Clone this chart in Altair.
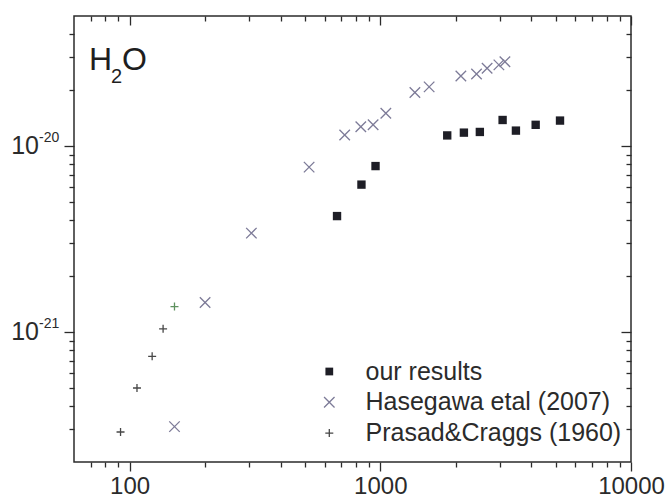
import altair as alt
import pandas as pd

# Cross sections for H2O versus energy
ours_x = [672, 841, 957, 1849, 2155, 2495, 3075, 3475, 4166, 5210]
ours_y = [4.2e-21, 6.2e-21, 7.8e-21, 1.14e-20, 1.18e-20, 1.19e-20, 1.38e-20, 1.21e-20, 1.30e-20, 1.37e-20]

hase_x = [151, 200, 306, 520, 721, 836, 936, 1052, 1374, 1566, 2096, 2420, 2667, 2972, 3141]
hase_y = [3.1e-22, 1.44e-21, 3.4e-21, 7.7e-21, 1.145e-20, 1.27e-20, 1.30e-20, 1.50e-20,
          1.94e-20, 2.08e-20, 2.38e-20, 2.44e-20, 2.62e-20, 2.73e-20, 2.84e-20]

pc_x = [92, 107, 123, 136, 151]
pc_y = [2.9e-22, 5.0e-22, 7.4e-22, 1.04e-21, 1.37e-21]

legend_labels = ["our results", "Hasegawa etal (2007)", "Prasad&Craggs (1960)"]

x_domain = [60, 10000]
y_domain = [2e-22, 5e-20]
x_major = [100, 1000, 10000]
y_major = [1e-21, 1e-20]
y_exponents = ["-21", "-20"]
x_minor = [m * d for d in (10, 100, 1000) for m in range(2, 10)
           if x_domain[0] < m * d < x_domain[1]]
y_minor = [m * d for d in (1e-22, 1e-21, 1e-20) for m in range(2, 10)
           if y_domain[0] * 1.01 < m * d < y_domain[1] * 0.99]

W, H = 557, 446
INK = "#2b2b2b"
FONT = "Liberation Sans"
X_PATH = "M-1,-1L1,1M-1,1L1,-1"
PLUS_PATH = "M-1,0L1,0M0,-1L0,1"

xs = alt.Scale(type="log", domain=x_domain, nice=False)
ys = alt.Scale(type="log", domain=y_domain, nice=False)


def axis(orient, values, size, offset=0, labels=False):
    kw = dict(orient=orient, values=values, tickSize=size, offset=offset, labels=labels,
              domain=False, grid=False, title=None, ticks=True, tickColor=INK, tickWidth=1.3)
    if labels:
        kw.update(format="d", labelFontSize=24, labelFont=FONT, labelColor=INK,
                  labelPadding=3, labelFlush=False, labelOverlap=False)
    return alt.Axis(**kw)


def frame_df():
    return pd.DataFrame({"x0": [x_domain[0]], "x1": [x_domain[1]],
                         "y0": [y_domain[0]], "y1": [y_domain[1]]})


# plot frame, carrying the inward minor ticks on top and right
frame = alt.Chart(frame_df()).mark_rect(fill="transparent", stroke=INK, strokeWidth=1.5).encode(
    x=alt.X("x0:Q", scale=xs, axis=axis("top", x_minor, 5, -5)),
    x2="x1:Q",
    y=alt.Y("y0:Q", scale=ys, axis=axis("right", y_minor, 5, -5)),
    y2="y1:Q",
)

ours = alt.Chart(pd.DataFrame({"energy": ours_x, "sigma": ours_y})).mark_point(
    shape="square", filled=True, size=70, color="#1e1e26", opacity=1
).encode(
    x=alt.X("energy:Q", scale=xs, axis=axis("bottom", x_major, 9, labels=True)),
    y=alt.Y("sigma:Q", scale=ys, axis=axis("left", y_major, 10)),
)

hase = alt.Chart(pd.DataFrame({"energy": hase_x, "sigma": hase_y})).mark_point(
    shape=X_PATH, filled=False, size=110, stroke="#7d7b98", strokeWidth=1.3, opacity=1
).encode(
    x=alt.X("energy:Q", scale=xs, axis=axis("bottom", x_minor, 5)),
    y=alt.Y("sigma:Q", scale=ys, axis=axis("left", y_minor, 5)),
)

pc = alt.Chart(pd.DataFrame({"energy": pc_x, "sigma": pc_y})).mark_point(
    shape=PLUS_PATH, filled=False, size=64, strokeWidth=1.3, opacity=1
).encode(
    x=alt.X("energy:Q", scale=xs, axis=axis("top", x_major, 9, -9)),
    y=alt.Y("sigma:Q", scale=ys, axis=axis("right", y_major, 10, -10)),
    stroke=alt.condition(f"datum.energy == {pc_x[-1]}", alt.value("#5e915e"), alt.value("#474747")),
)

# y tick labels as 10 with a raised exponent
ylab = alt.Chart(pd.DataFrame({"v": y_major, "exp": y_exponents}))
base10 = ylab.mark_text(text="10", align="right", baseline="middle", fontSize=25,
                        font=FONT, color=INK).encode(
    x=alt.value(-35), y=alt.Y("v:Q", scale=ys, axis=None))
expo = ylab.mark_text(align="left", baseline="middle", fontSize=14, font=FONT,
                      color=INK, dy=-8).encode(
    x=alt.value(-35), y=alt.Y("v:Q", scale=ys, axis=None), text="exp:N")

one = pd.DataFrame({"k": [0]})

# H2O label with subscript
h_txt = alt.Chart(one).mark_text(text="H", align="left", baseline="alphabetic", fontSize=32,
                                 font=FONT, color="#1e1e1e").encode(x=alt.value(15), y=alt.value(54))
two_txt = alt.Chart(one).mark_text(text="2", align="left", baseline="alphabetic", fontSize=20,
                                   font=FONT, color="#1e1e1e").encode(x=alt.value(37), y=alt.value(67))
o_txt = alt.Chart(one).mark_text(text="O", align="left", baseline="alphabetic", fontSize=32,
                                 font=FONT, color="#1e1e1e").encode(x=alt.value(48), y=alt.value(54))

# legend entries
leg_marks = [
    dict(shape="square", filled=True, size=60, color="#1e1e26"),
    dict(shape=X_PATH, filled=False, size=110, stroke="#7d7b98", strokeWidth=1.3),
    dict(shape=PLUS_PATH, filled=False, size=64, stroke="#474747", strokeWidth=1.3),
]
legend_layers = []
for i, (lab, style) in enumerate(zip(legend_labels, leg_marks)):
    ry = 355.5 + i * 30.8
    legend_layers.append(alt.Chart(one).mark_point(opacity=1, **style).encode(
        x=alt.value(255.3), y=alt.value(ry)))
    legend_layers.append(alt.Chart(one).mark_text(
        text=lab, align="left", baseline="middle", fontSize=25, font=FONT, color=INK
    ).encode(x=alt.value(291.5), y=alt.value(ry)))

chart = alt.layer(
    frame, ours, hase, pc, base10, expo, h_txt, two_txt, o_txt, *legend_layers
).resolve_axis(x="independent", y="independent").properties(
    width=W, height=H,
    padding={"left": 74, "top": 16, "right": 38, "bottom": 37},
    autosize=alt.AutoSizeParams(type="none"),
).configure_view(strokeWidth=0)

chart.save("out.html", embed_options={"renderer": "svg", "actions": False})
